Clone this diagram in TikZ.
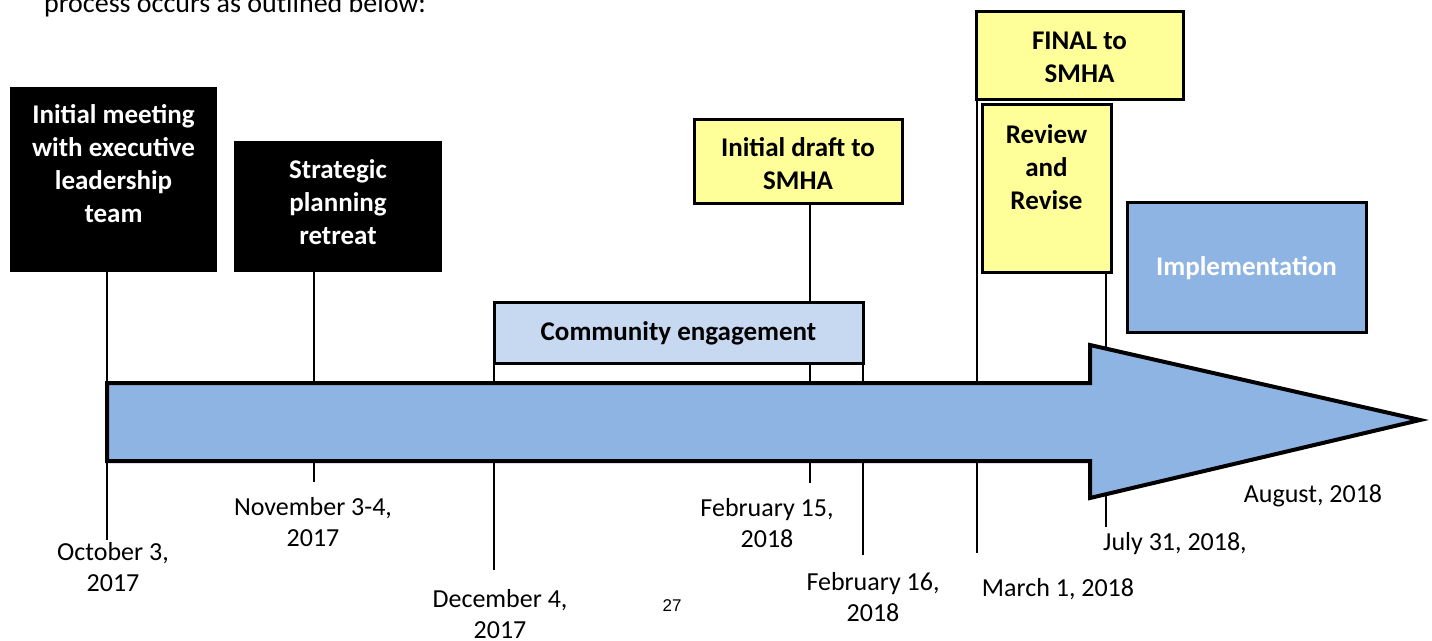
\documentclass[tikz,border=0pt]{standalone}
\usepackage{fontspec}
\setmainfont{Carlito}
\newfontfamily\arialfont{Liberation Sans}
\definecolor{arrowblue}{RGB}{142,180,227}
\definecolor{paleblue}{RGB}{198,217,241}
\definecolor{paleyellow}{RGB}{255,255,153}
\begin{document}
\begin{tikzpicture}[x=1pt,y=-1pt,
  blackbox/.style={fill=black, inner sep=0pt},
  yellowbox/.style={fill=paleyellow, draw=black, line width=3pt, inner sep=0pt},
  boxtext/.style={font=\fontsize{27}{33}\selectfont\bfseries, align=center, inner sep=0pt},
  datetext/.style={font=\fontsize{26}{31}\selectfont, align=center, inner sep=0pt},
  tick/.style={line width=1.5pt}]
\useasboundingbox (0,0) rectangle (1432,640);
\clip (0,0) rectangle (1432,640);

% intro text
\node[font=\fontsize{28}{34}\selectfont, anchor=base west, inner sep=0pt] (intro) at (44,12) {process occurs as outlined below:};

% tick end points
\coordinate (e1) at (107,540);
\coordinate (e2) at (314,482);
\coordinate (e3) at (494,570);
\coordinate (e4) at (810,483);
\coordinate (e5) at (863,555);
\coordinate (e6) at (977,553);
\coordinate (e7) at (1106,527);
\coordinate (s1) at (107,272);
\coordinate (s2) at (314,272);
\coordinate (s3) at (494,363);
\coordinate (s4) at (810,203);
\coordinate (s5) at (863,363);
\coordinate (s6) at (977,99);
\coordinate (s7) at (1106,272);

\draw[tick] (s1) -- (e1);
\draw[tick] (s2) -- (e2);
\draw[tick] (s3) -- (e3);
\draw[tick] (s4) -- (e4);
\draw[tick] (s5) -- (e5);
\draw[tick] (s6) -- (e6);
\draw[tick] (s7) -- (e7);

% boxes
\node[blackbox, minimum width=207pt, minimum height=185pt] (b1) at (113.5,179.5) {};
\node[boxtext, text=white] (t1) at (113.5,164) {Initial meeting\\with executive\\leadership\\team};
\node[blackbox, minimum width=208pt, minimum height=131pt] (b2) at (338,206.5) {};
\node[boxtext, text=white] (t2) at (338,202) {Strategic\\planning\\retreat};
\node[fill=paleblue, draw=black, line width=3pt, minimum width=369pt, minimum height=61pt, inner sep=0pt] (b3) at (678.5,332.5) {};
\node[boxtext] (t3) at (678.5,333) {Community engagement};
\node[yellowbox, minimum width=208pt, minimum height=84pt] (b4) at (798,161) {};
\node[boxtext] (t4) at (798,164) {Initial draft to\\SMHA};
\node[yellowbox, minimum width=207pt, minimum height=88pt] (b5) at (1079.5,55) {};
\node[boxtext] (t5) at (1079.5,57) {FINAL to\\SMHA};
\node[yellowbox, minimum width=129pt, minimum height=168pt] (b6) at (1046.5,188) {};
\node[boxtext] (t6) at (1046.5,167) {Review\\and\\Revise};
\node[fill=arrowblue, draw=black, line width=3pt, minimum width=239pt, minimum height=130pt, inner sep=0pt] (b7) at (1246.5,267) {};
\node[boxtext, text=white] (t7) at (1246.5,268) {Implementation};

% main arrow
\draw[fill=arrowblue, line width=4pt, line join=miter]
  (107,383) -- (1090,383) -- (1090,345) -- (1420,420) -- (1090,498) -- (1090,461) -- (107,461) -- cycle;

% date labels
\node[datetext] (d1) at (113,567) {October 3,\\2017};
\node[datetext] (d2) at (313,522) {November 3-4,\\2017};
\node[datetext] (d3) at (500,614) {December 4,\\2017};
\node[datetext] (d4) at (767,523) {February 15,\\2018};
\node[datetext] (d5) at (873,597) {February 16,\\2018};
\node[datetext] (d6) at (1058,589) {March 1, 2018};
\node[datetext, anchor=west] (d7) at (1103,544) {July 31, 2018,};
\node[datetext] (d8) at (1313,496) {August, 2018};

\node[font=\arialfont\fontsize{17}{20}\selectfont, inner sep=0pt] (pg) at (672,606) {27};
\end{tikzpicture}
\end{document}
